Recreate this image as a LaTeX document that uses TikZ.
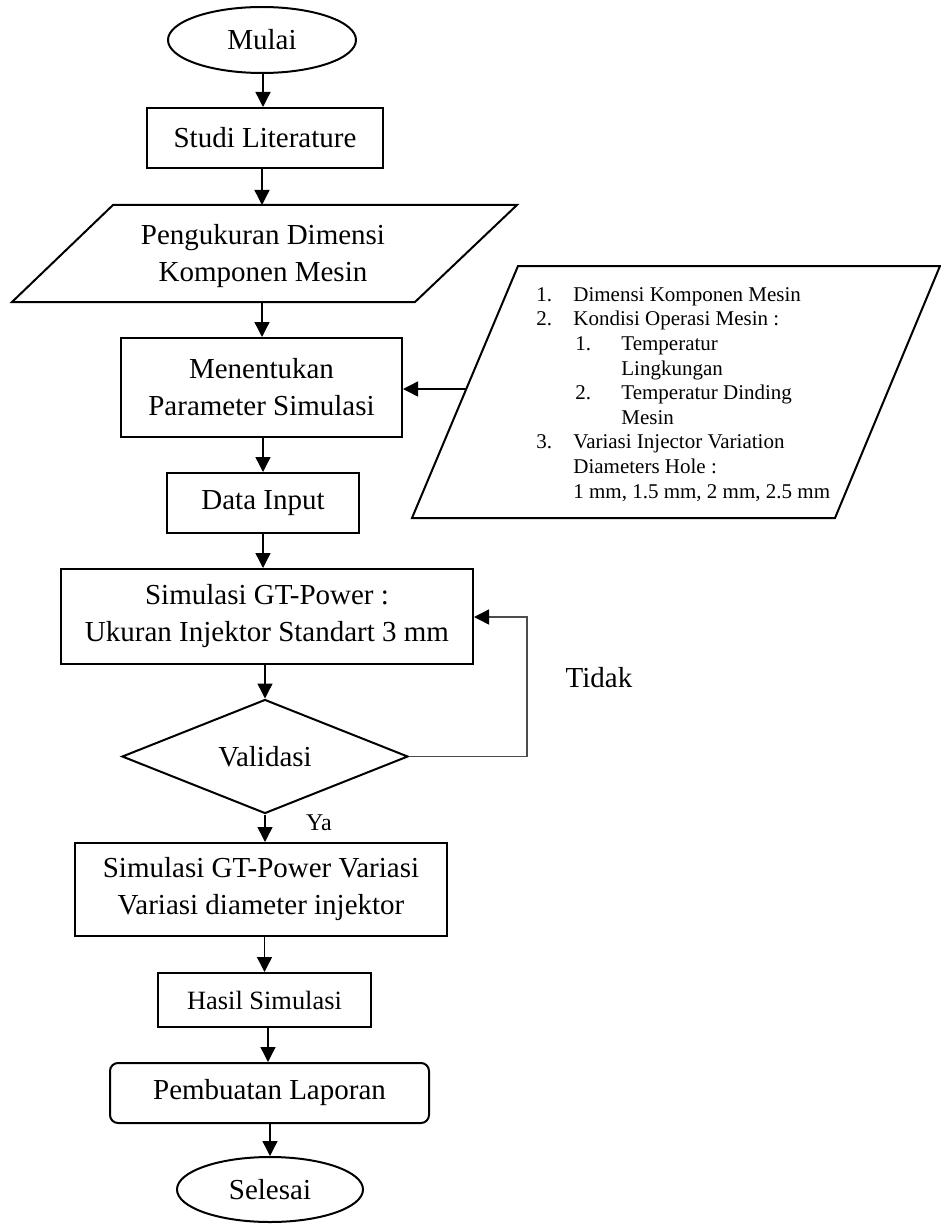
\documentclass[tikz,border=0pt]{standalone}
\usepackage{fontspec}
\setmainfont{Liberation Serif}
\usetikzlibrary{shapes.geometric,arrows.meta}
\tikzset{
  main/.style={font=\fontsize{14.5}{18.5}\selectfont},
  boxnode/.style={main,draw,line width=1pt,rectangle,inner sep=0pt,align=center},
  termnode/.style={main,draw,line width=1pt,ellipse,inner sep=0pt},
  arr/.style={line width=0.7pt,-{Triangle[width=7.5pt,length=7.5pt]}},
  backarr/.style={line width=0.7pt,draw=black!70,-{Triangle[width=7.5pt,length=7.5pt,color=black]}},
  shapeline/.style={line width=1pt,line join=miter}
}
\begin{document}
\begin{tikzpicture}[x=0.5pt,y=-0.5pt]
\useasboundingbox (0,0) rectangle (941,1225);
% nodes
\node[termnode,minimum width=94pt,minimum height=33pt] (mulai) at (262,40) {Mulai};
\node[boxnode,minimum width=118pt,minimum height=30pt] (studi) at (265,138) {Studi Literature};
% parallelogram 1
\draw[shapeline] (113,205) -- (517,205) -- (415,302) -- (12,302) -- cycle;
\coordinate (p1top) at (262,205);
\coordinate (p1bot) at (262,302);
\node[main,align=center,inner sep=0pt] (pengukuran) at (263,256) {Pengukuran Dimensi\\Komponen Mesin};
\node[boxnode,minimum width=140.5pt,minimum height=49.5pt] (menentukan) at (261.5,387.5) {Menentukan\\Parameter Simulasi};
\node[boxnode,minimum width=96pt,minimum height=30pt] (data) at (263,503) {Data Input};
\node[boxnode,minimum width=206pt,minimum height=47.5pt] (sim1) at (267,616.5) {Simulasi GT-Power :\\Ukuran Injektor Standart 3 mm};
\node[main,draw,line width=1pt,diamond,inner sep=0pt,minimum width=143pt,minimum height=53.5pt] (valid) at (265,756.5) {Validasi};
\node[boxnode,minimum width=186pt,minimum height=46.5pt] (sim2) at (261,889.5) {Simulasi GT-Power Variasi\\Variasi diameter injektor};
\node[boxnode,font=\fontsize{13.2}{16}\selectfont,minimum width=106.5pt,minimum height=27pt] (hasil) at (264.5,1000) {Hasil Simulasi};
\node[boxnode,rounded corners=4pt,minimum width=159.5pt,minimum height=30pt] (laporan) at (269.5,1093) {Pembuatan Laporan};
\node[termnode,minimum width=93pt,minimum height=32.5pt] (selesai) at (270,1189.5) {Selesai};
% right parallelogram
\draw[shapeline] (518,266) -- (940,266) -- (835,518) -- (412,518) -- cycle;
\coordinate (p2left) at (466,389);
\node[anchor=north west,inner sep=0pt,align=left,font=\fontsize{10.5}{12.3}\selectfont] (list) at (536,287) {%
\makebox[18.5pt][l]{1.}Dimensi Komponen Mesin\\
\makebox[18.5pt][l]{2.}Kondisi Operasi Mesin :\\
\hspace*{19.5pt}\makebox[23pt][l]{1.}Temperatur\\
\hspace*{42.5pt}Lingkungan\\
\hspace*{19.5pt}\makebox[23pt][l]{2.}Temperatur Dinding\\
\hspace*{42.5pt}Mesin\\
\makebox[18.5pt][l]{3.}Variasi Injector Variation\\
\hspace*{18.5pt}Diameters Hole :\\
\hspace*{18.5pt}1 mm, 1.5 mm, 2 mm, 2.5 mm};
% labels
\node[font=\fontsize{12}{14}\selectfont,inner sep=0pt] (ya) at (319,823) {Ya};
\node[main,inner sep=0pt] (tidak) at (599,678) {Tidak};
% connectors
\coordinate (c1) at (263,0);
\coordinate (c2) at (268,0);
\draw[arr] (mulai.south -| c1) -- (c1 |- studi.north);
\draw[arr] (studi.south -| p1top) -- (p1top);
\draw[arr] (p1bot) -- (p1bot |- menentukan.north);
\draw[arr] (p2left) -- (menentukan.east |- p2left);
\draw[arr] (menentukan.south -| data.north) -- (data.north);
\draw[arr] (data.south) -- (data.south |- sim1.north);
\draw[arr] (sim1.south -| valid.north) -- (valid.north);
\draw[arr] (valid.south) -- (valid.south |- sim2.north);
\draw[arr] (sim2.south -| hasil.north) -- (hasil.north);
\draw[arr] (hasil.south -| c2) -- (c2 |- laporan.north);
\draw[arr] (laporan.south -| selesai.north) -- (selesai.north);
\coordinate (tc) at (527,617);
\draw[backarr] (valid.east) -| (tc) -- (sim1.east |- tc);
\end{tikzpicture}
\end{document}
